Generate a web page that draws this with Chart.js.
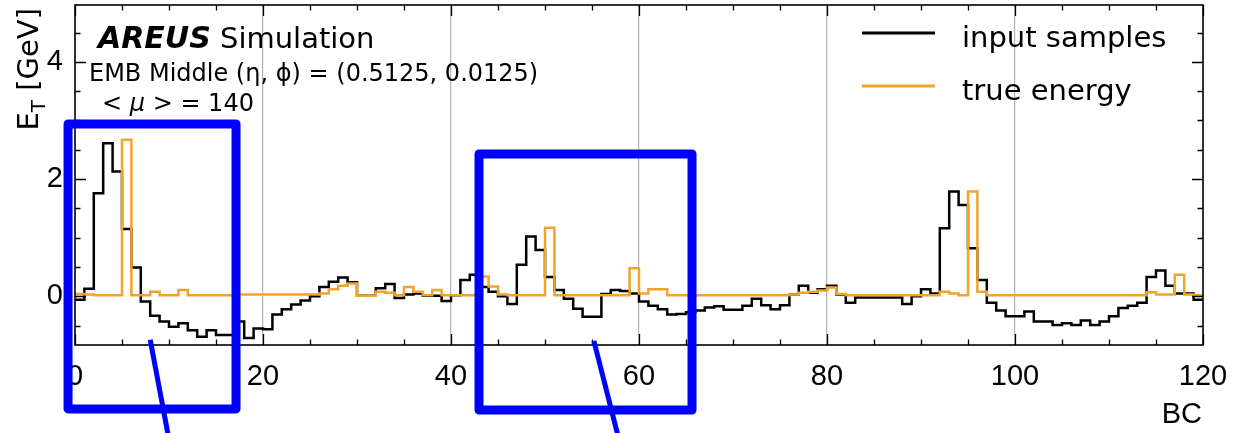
<!DOCTYPE html>
<html>
<head>
<meta charset="utf-8">
<title>AREUS simulation – EMB Middle cell</title>
<script src="https://cdn.jsdelivr.net/npm/chart.js@4.4.1/dist/chart.umd.min.js"></script>
<style>
  html, body { margin: 0; padding: 0; background: #ffffff; }
  #wrap { width: 1234px; height: 433px; }
</style>
</head>
<body>
<div id="wrap"><canvas id="c" width="1234" height="433"></canvas></div>
<script>
// Bunch-crossing bin edges (120 bins, one per BC)
const binEdges = Array.from({ length: 121 }, (_, i) => i);

// E_T of the input samples per BC [GeV]
const inputSamples = [
  -0.06, 0.13, 1.76, 2.61, 2.13, 1.15, 0.49, -0.09, -0.33, -0.43,
  -0.52, -0.46, -0.58, -0.69, -0.58, -0.66, -0.66, -0.43, -0.71, -0.55,
  -0.56, -0.31, -0.22, -0.14, -0.07, 0.00, 0.16, 0.25, 0.32, 0.24,
  0.01, 0.01, 0.14, 0.21, -0.03, 0.03, 0.05, 0.01, 0.01, -0.08,
  0.02, 0.28, 0.37, 0.16, 0.08, 0.00, -0.13, 0.54, 1.02, 0.79,
  0.33, 0.11, -0.04, -0.21, -0.35, -0.35, 0.04, 0.11, 0.09, 0.05,
  -0.09, -0.16, -0.22, -0.31, -0.30, -0.27, -0.24, -0.19, -0.17, -0.23,
  -0.23, -0.16, -0.04, -0.15, -0.22, -0.15, 0.03, 0.18, 0.06, 0.12,
  0.18, 0.03, -0.11, -0.02, -0.02, -0.02, -0.02, -0.02, -0.13, 0.00,
  0.12, 0.05, 1.16, 1.79, 1.56, 0.82, 0.28, -0.11, -0.24, -0.34,
  -0.34, -0.26, -0.43, -0.43, -0.49, -0.46, -0.49, -0.41, -0.49, -0.43,
  -0.34, -0.20, -0.16, -0.11, 0.33, 0.44, 0.18, 0.05, 0.05, -0.06
];

// True deposited E_T per BC [GeV]
const trueEnergy = [
  0.04, 0.03, 0.02, 0.02, 0.02, 2.67, 0.02, 0.02, 0.08, 0.02,
  0.02, 0.11, 0.02, 0.02, 0.02, 0.02, 0.02, 0.03, 0.03, 0.03,
  0.03, 0.03, 0.03, 0.03, 0.03, 0.03, 0.05, 0.12, 0.18, 0.22,
  0.01, 0.01, 0.08, 0.06, 0.02, 0.16, 0.08, 0.02, 0.11, 0.02,
  0.02, 0.02, 0.02, 0.34, 0.17, 0.03, 0.02, 0.02, 0.02, 0.02,
  1.17, 0.02, 0.02, 0.02, 0.02, 0.02, 0.02, 0.02, 0.02, 0.48,
  0.05, 0.12, 0.12, 0.02, 0.02, 0.02, 0.02, 0.02, 0.02, 0.02,
  0.02, 0.02, 0.02, 0.02, 0.02, 0.02, 0.03, 0.06, 0.08, 0.10,
  0.15, 0.04, 0.02, 0.02, 0.02, 0.02, 0.02, 0.02, 0.02, 0.02,
  0.02, 0.02, 0.08, 0.05, 0.02, 1.79, 0.08, 0.02, 0.02, 0.02,
  0.02, 0.02, 0.02, 0.02, 0.02, 0.02, 0.02, 0.02, 0.02, 0.02,
  0.02, 0.02, 0.02, 0.02, 0.07, 0.03, 0.03, 0.37, 0.03, 0.02
];

// Axis tick labels
const xTickValues = [0, 20, 40, 60, 80, 100, 120];
const yTickValues = [0, 2, 4];
const xMinorStep = 5;
const yMinorStep = 0.5;

// Highlighted regions (data units) with their callout lines
const highlightBoxes = [
  { x0: -0.74, x1: 17.13, y0: 2.94, y1: -1.92, lx0: 8.0, ly0: -0.74, lx1: 9.95, ly1: -2.4 },
  { x0: 42.98, x1: 65.64, y0: 2.43, y1: -1.94, lx0: 55.2, ly0: -0.76, lx1: 57.8, ly1: -2.4 }
];

const ORANGE = '#f0a42c';
const SANS = '"DejaVu Sans", sans-serif';
const TICK_FONT = '"Liberation Sans", Arial, sans-serif';

function toSteps(values) {
  const pts = values.map((v, i) => ({ x: binEdges[i], y: v }));
  pts.push({ x: binEdges[values.length], y: values[values.length - 1] });
  return pts;
}

const decorations = {
  id: 'decorations',
  afterDraw(chart) {
    const ctx = chart.ctx;
    const a = chart.chartArea;
    const xs = chart.scales.x, ys = chart.scales.y;

    ctx.save();
    // inward ticks on all four sides
    ctx.strokeStyle = '#000';
    ctx.lineWidth = 1.3;
    ctx.beginPath();
    for (let v = xs.min; v <= xs.max + 1e-9; v += xMinorStep) {
      const px = Math.round(xs.getPixelForValue(v)) + 0.5;
      const len = (v % 20 === 0) ? 11 : 5.5;
      ctx.moveTo(px, a.bottom); ctx.lineTo(px, a.bottom - len);
      ctx.moveTo(px, a.top); ctx.lineTo(px, a.top + len);
    }
    const yStart = Math.ceil(ys.min / yMinorStep) * yMinorStep;
    for (let v = yStart; v <= ys.max + 1e-9; v += yMinorStep) {
      const py = Math.round(ys.getPixelForValue(v)) + 0.5;
      const major = Math.abs(v / 2 - Math.round(v / 2)) < 1e-6;
      const len = major ? 11 : 5.5;
      ctx.moveTo(a.left, py); ctx.lineTo(a.left + len, py);
      ctx.moveTo(a.right, py); ctx.lineTo(a.right - len, py);
    }
    ctx.stroke();

    // frame
    ctx.lineWidth = 1.6;
    ctx.strokeRect(a.left, a.top, a.right - a.left, a.bottom - a.top);

    // axis titles
    ctx.fillStyle = '#000';
    ctx.font = '29px ' + TICK_FONT;
    ctx.textAlign = 'right';
    ctx.textBaseline = 'alphabetic';
    ctx.fillText('BC', a.right - 1, 423);

    ctx.save();
    ctx.translate(38, 8);
    ctx.rotate(-Math.PI / 2);
    ctx.textAlign = 'left';
    const fMain = '29px ' + SANS, fSub = '20px ' + SANS;
    ctx.font = fMain; const wE = ctx.measureText('E').width;
    const wRest = ctx.measureText(' [GeV]').width;
    ctx.font = fSub; const wT = ctx.measureText('T').width;
    const W = wE + wT + wRest;
    ctx.font = fMain; ctx.fillText('E', -W, 0);
    ctx.font = fSub; ctx.fillText('T', -W + wE, 7);
    ctx.font = fMain; ctx.fillText(' [GeV]', -W + wE + wT, 0);
    ctx.restore();

    // experiment / conditions text
    ctx.textAlign = 'left';
    ctx.font = 'italic bold 30px ' + SANS;
    ctx.fillText('AREUS', 98, 48);
    const wA = ctx.measureText('AREUS').width;
    ctx.font = '29px ' + SANS;
    ctx.fillText(' Simulation', 98 + wA, 48);

    let x = 89;
    const put = (s, font, y) => { ctx.font = font; ctx.fillText(s, x, y); x += ctx.measureText(s).width; };
    put('EMB Middle (η, ϕ) = (0.5125, 0.0125)', '24px ' + SANS, 81);

    x = 102;
    put('< ', '24px ' + SANS, 111);
    put('μ', 'italic 24px ' + SANS, 111);
    put(' > = 140', '24px ' + SANS, 111);

    // legend
    const legendRows = [33, 86];
    chart.data.datasets.forEach((ds, i) => {
      const y = legendRows[i];
      ctx.strokeStyle = ds.borderColor;
      ctx.lineWidth = 3;
      ctx.beginPath();
      ctx.moveTo(862, y); ctx.lineTo(935, y);
      ctx.stroke();
      ctx.fillStyle = '#000';
      ctx.font = '29px ' + SANS;
      ctx.textAlign = 'left';
      ctx.fillText(ds.label, 962, y + 14);
    });

    // highlighted regions
    ctx.strokeStyle = '#0000ff';
    ctx.lineJoin = 'round';
    highlightBoxes.forEach(b => {
      const l = xs.getPixelForValue(b.x0), r = xs.getPixelForValue(b.x1);
      const t = ys.getPixelForValue(b.y0), btm = ys.getPixelForValue(b.y1);
      ctx.lineWidth = 9;
      ctx.strokeRect(l, t, r - l, btm - t);
      ctx.lineWidth = 5;
      ctx.beginPath();
      ctx.moveTo(xs.getPixelForValue(b.lx0), ys.getPixelForValue(b.ly0));
      ctx.lineTo(xs.getPixelForValue(b.lx1), ys.getPixelForValue(b.ly1));
      ctx.stroke();
    });
    ctx.restore();
  }
};

new Chart(document.getElementById('c'), {
  type: 'line',
  data: {
    datasets: [
      { label: 'input samples', data: toSteps(inputSamples), borderColor: '#000000',
        borderWidth: 2.5, stepped: 'before', pointRadius: 0, fill: false, order: 1 },
      { label: 'true energy', data: toSteps(trueEnergy), borderColor: ORANGE,
        borderWidth: 2.5, stepped: 'before', pointRadius: 0, fill: false, order: 0 }
    ]
  },
  options: {
    responsive: false,
    animation: false,
    devicePixelRatio: 1,
    layout: { padding: { top: 5, right: 31, left: 0, bottom: 0 } },
    plugins: { legend: { display: false }, tooltip: { enabled: false } },
    scales: {
      x: {
        type: 'linear', min: 0, max: 120,
        afterBuildTicks: s => { s.ticks = xTickValues.map(v => ({ value: v })); },
        afterFit: s => { s.height = 88; s.paddingLeft = 0; s.paddingRight = 0; },
        border: { display: false },
        grid: {
          drawTicks: false, lineWidth: 1.2,
          color: c => (c.tick && (c.tick.value === 0 || c.tick.value === 120)) ? 'rgba(0,0,0,0)' : '#b3b3b3'
        },
        ticks: { color: '#000', font: { family: TICK_FONT, size: 29 }, padding: 15,
                 maxRotation: 0, autoSkip: false }
      },
      y: {
        type: 'linear', min: -0.83, max: 4.97,
        afterBuildTicks: s => { s.ticks = yTickValues.map(v => ({ value: v })); },
        afterFit: s => { s.width = 75; s.paddingTop = 0; s.paddingBottom = 0; },
        border: { display: false },
        grid: { display: false, drawTicks: false },
        ticks: { color: '#000', font: { family: TICK_FONT, size: 29 }, padding: 12 }
      }
    }
  },
  plugins: [decorations]
});
</script>
</body>
</html>
